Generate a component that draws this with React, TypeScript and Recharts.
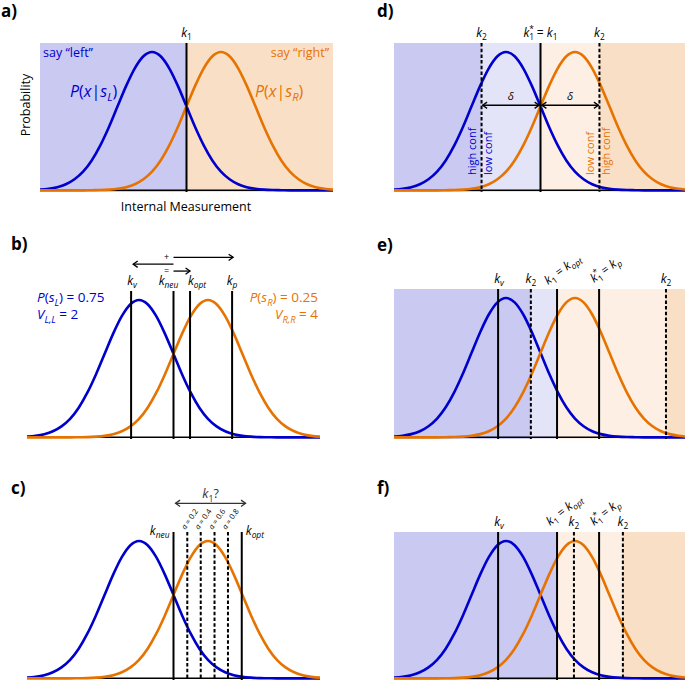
import React from "react";
import { Line, LineChart, ReferenceArea, ReferenceLine, XAxis, YAxis } from "recharts";

// internal measurement grid (units of stimulus sd, 0 = neutral criterion)
const X_GRID = [
  -4.25, -4, -3.75, -3.5, -3.25, -3, -2.75, -2.5, -2.25, -2, -1.75, -1.5, -1.25, -1, -0.75, -0.5, -0.25, 0,
  0.25, 0.5, 0.75, 1, 1.25, 1.5, 1.75, 2, 2.25, 2.5, 2.75, 3, 3.25, 3.5, 3.75, 4, 4.25,
];
// P(x|s_L), peak normalised to 1
const P_LEFT = [
  0.005, 0.011, 0.023, 0.044, 0.08, 0.135, 0.216, 0.325, 0.458, 0.607, 0.755, 0.882, 0.969, 1, 0.969, 0.882, 0.755,
  0.607, 0.458, 0.325, 0.216, 0.135, 0.08, 0.044, 0.023, 0.011, 0.005, 0.002, 0.001, 0, 0, 0, 0, 0, 0,
];
// P(x|s_R)
const P_RIGHT = [
  0, 0, 0, 0, 0, 0, 0.001, 0.002, 0.005, 0.011, 0.023, 0.044, 0.08, 0.135, 0.216, 0.325, 0.458, 0.607, 0.755, 0.882,
  0.969, 1, 0.969, 0.882, 0.755, 0.607, 0.458, 0.325, 0.216, 0.135, 0.08, 0.044, 0.023, 0.011, 0.005,
];

const CURVE = X_GRID.map((x, i) => ({ x, left: P_LEFT[i], right: P_RIGHT[i] }));

// criteria
const A_K1 = 0;
const B_KV = -1.23;
const B_KNEU = 0;
const B_KOPT = 0.48;
const B_KP = 1.7;
const C_KNEU = 0;
const C_KOPT = 1.98;
const C_ALPHAS = ["0.2", "0.4", "0.6", "0.8"];
const C_MIX = [0.4, 0.79, 1.19, 1.58];
const D_K1 = 0;
const D_K2 = [-1.71, 1.71];
const D_DELTA_Y = 0.615;
const E_KV = -1.23;
const E_K1 = 0.48;
const E_KP = 1.7;
const E_K2 = [-0.28, 3.64];
const F_KV = -1.23;
const F_K1 = 0.48;
const F_KP = 1.7;
const F_K2 = [0.97, 2.39];

const FONT = "'Open Sans', 'DejaVu Sans', sans-serif";
const BLUE = "#0000cc";
const ORANGE = "#e67300";
const BG_BLUE = "#c9c9f2";
const BG_BLUE_LIGHT = "#e4e4f9";
const BG_ORANGE = "#fadfc7";
const BG_ORANGE_LIGHT = "#fdefe3";

const W = 293;
const M = 50;
const X_DOMAIN: [number, number] = [-4.25, 4.25];
const Y_DOMAIN: [number, number] = [-0.012, 1.065];

type Seg = { t: string; it?: boolean; sub?: boolean; sup?: boolean; dx?: number };

function MathText({
  segs,
  x,
  y,
  fs = 11,
  fill = "#000",
  anchor = "start",
  rotate,
  weight,
}: {
  segs: Seg[];
  x: number;
  y: number;
  fs?: number;
  fill?: string;
  anchor?: "start" | "middle" | "end";
  rotate?: number;
  weight?: number;
}) {
  let shift = 0;
  const spans = segs.map((s, i) => {
    const target = s.sub ? fs * 0.26 : s.sup ? -fs * 0.42 : 0;
    const dy = target - shift;
    shift = target;
    return (
      <tspan
        key={i}
        dy={dy || undefined}
        dx={s.dx}
        fontStyle={s.it ? "italic" : undefined}
        fontSize={s.sub || s.sup ? fs * 0.7 : fs}
      >
        {s.t}
      </tspan>
    );
  });
  return (
    <text
      x={x}
      y={y}
      fontSize={fs}
      fill={fill}
      fontFamily={FONT}
      fontWeight={weight}
      textAnchor={anchor}
      transform={rotate ? `rotate(${rotate} ${x} ${y})` : undefined}
    >
      {spans}
    </text>
  );
}

const t = (s: string): Seg[] => [{ t: s }];
const k = (sub: string): Seg[] => [
  { t: "k", it: true },
  { t: sub, sub: true, it: isNaN(Number(sub)) },
];
const k1star: Seg[] = [{ t: "k", it: true }, { t: "1", sub: true }, { t: "*", sup: true, dx: -5 }];
const eq = (a: Seg[], b: Seg[]): Seg[] => [...a, { t: "\u00a0=\u00a0" }, ...b];

type VOpts = {
  label?: Seg[];
  dashed?: boolean;
  rot?: number;
  dx?: number;
  dy?: number;
  anchor?: "start" | "middle" | "end";
  fs?: number;
};

const vshape = (o: VOpts = {}) => (p: any) => {
  const x = p.x1;
  const y1 = Math.min(p.y1, p.y2);
  const y2 = Math.max(p.y1, p.y2);
  return (
    <g>
      <line
        x1={x}
        x2={x}
        y1={y1}
        y2={y2}
        stroke="#000"
        strokeWidth={2}
        strokeDasharray={o.dashed ? "3.5 2.2" : undefined}
      />
      {o.label && (
        <MathText
          segs={o.label}
          x={x + (o.dx ?? 0)}
          y={y1 + (o.dy ?? -6)}
          anchor={o.anchor ?? "middle"}
          rotate={o.rot}
          fs={o.fs ?? 12}
        />
      )}
    </g>
  );
};

type HOpts = { heads: "l" | "r" | "lr"; color?: string; text?: Seg[]; side?: "above" | "left"; fs?: number };

const hshape = (o: HOpts) => (p: any) => {
  const a = Math.min(p.x1, p.x2);
  const b = Math.max(p.x1, p.x2);
  const y = p.y1;
  const h = 4.5;
  const c = o.color ?? "#000";
  return (
    <g>
      <g stroke={c} strokeWidth={1.3} fill="none">
        <line x1={a} x2={b} y1={y} y2={y} />
        {o.heads.includes("l") && <path d={`M${a + h},${y - h * 0.7} L${a},${y} L${a + h},${y + h * 0.7}`} />}
        {o.heads.includes("r") && <path d={`M${b - h},${y - h * 0.7} L${b},${y} L${b - h},${y + h * 0.7}`} />}
      </g>
      {o.text &&
        (o.side === "left" ? (
          <MathText segs={o.text} x={a - 7} y={y + 2.5} anchor="middle" fs={o.fs ?? 9} fill={c} />
        ) : (
          <MathText segs={o.text} x={(a + b) / 2} y={y - 5} anchor="middle" fs={o.fs ?? 11} fill={c} />
        ))}
    </g>
  );
};

const area = (key: string, x1: number, x2: number, fill: string) => (
  <ReferenceArea key={key} x1={x1} x2={x2} fill={fill} fillOpacity={1} stroke="none" />
);

function Panel({
  left,
  plotTop,
  plotH,
  bg,
  fg,
}: {
  left: number;
  plotTop: number;
  plotH: number;
  bg: React.ReactNode[];
  fg: React.ReactNode[];
}) {
  return (
    <div style={{ position: "absolute", left, top: plotTop - M }}>
      <LineChart width={W} height={plotH + M} data={CURVE} margin={{ top: M, right: 0, bottom: 0, left: 0 }}>
        <XAxis type="number" dataKey="x" domain={X_DOMAIN} allowDataOverflow hide />
        <YAxis type="number" domain={Y_DOMAIN} allowDataOverflow hide />
        {bg}
        <ReferenceLine y={0} stroke="#000" strokeWidth={1.5} />
        <Line
          dataKey="left"
          type="monotone"
          stroke={BLUE}
          strokeWidth={2.6}
          dot={false}
          activeDot={false}
          isAnimationActive={false}
        />
        <Line
          dataKey="right"
          type="monotone"
          stroke={ORANGE}
          strokeWidth={2.6}
          dot={false}
          activeDot={false}
          isAnimationActive={false}
        />
        {fg}
      </LineChart>
    </div>
  );
}

const confText = (s: string, x: number, fill: string) => (
  <MathText segs={t(s)} x={x} y={175} fs={11} fill={fill} rotate={-90} />
);

export default function App() {
  return (
    <div
      style={{
        position: "absolute",
        left: 0,
        top: 0,
        width: 685,
        height: 682,
        overflow: "hidden",
        background: "#fff",
        fontFamily: FONT,
      }}
    >
      {/* a) */}
      <Panel
        left={40}
        plotTop={43}
        plotH={149}
        bg={[area("a1", -4.25, A_K1, BG_BLUE), area("a2", A_K1, 4.25, BG_ORANGE)]}
        fg={[<ReferenceLine key="k1" x={A_K1} shape={vshape({ label: k("1") })} />]}
      />

      {/* b) */}
      <Panel
        left={27}
        plotTop={291}
        plotH={148}
        bg={[]}
        fg={[
          <ReferenceLine key="kv" x={B_KV} shape={vshape({ label: k("v"), dx: 1 })} />,
          <ReferenceLine key="kn" x={B_KNEU} shape={vshape({ label: k("neu"), dx: -5 })} />,
          <ReferenceLine key="ko" x={B_KOPT} shape={vshape({ label: k("opt"), dx: 7 })} />,
          <ReferenceLine key="kp" x={B_KP} shape={vshape({ label: k("p") })} />,
          <ReferenceLine
            key="ar1"
            segment={[
              { x: B_KNEU, y: 1.31 },
              { x: 1.73, y: 1.31 },
            ]}
            ifOverflow="visible"
            shape={hshape({ heads: "r", text: t("+"), side: "left" })}
          />,
          <ReferenceLine
            key="ar2"
            segment={[
              { x: -1.17, y: 1.26 },
              { x: B_KNEU, y: 1.26 },
            ]}
            ifOverflow="visible"
            shape={hshape({ heads: "l" })}
          />,
          <ReferenceLine
            key="ar3"
            segment={[
              { x: B_KNEU, y: 1.21 },
              { x: B_KOPT, y: 1.21 },
            ]}
            ifOverflow="visible"
            shape={hshape({ heads: "r", text: t("="), side: "left" })}
          />,
        ]}
      />

      {/* c) */}
      <Panel
        left={27}
        plotTop={532}
        plotH={148}
        bg={[]}
        fg={[
          <ReferenceLine
            key="kn"
            x={C_KNEU}
            shape={vshape({ label: k("neu"), anchor: "end", dx: -4, dy: 3 })}
          />,
          ...C_MIX.map((m, i) => (
            <ReferenceLine
              key={"m" + i}
              x={m}
              shape={vshape({
                dashed: true,
                label: [{ t: "α", it: true }, { t: "\u00a0=\u00a0" + C_ALPHAS[i] }],
                anchor: "start",
                rot: -55,
                dx: -2,
                dy: -2,
                fs: 7.5,
              })}
            />
          )),
          <ReferenceLine
            key="ko"
            x={C_KOPT}
            shape={vshape({ label: k("opt"), anchor: "start", dx: 4, dy: 3 })}
          />,
          <ReferenceLine
            key="ar"
            segment={[
              { x: 0.06, y: 1.274 },
              { x: 2.09, y: 1.274 },
            ]}
            ifOverflow="visible"
            shape={hshape({ heads: "lr", color: "#333", text: [...k("1"), { t: "?" }], fs: 12.5 })}
          />,
        ]}
      />

      {/* d) */}
      <Panel
        left={394}
        plotTop={43}
        plotH={149}
        bg={[
          area("d1", -4.25, D_K2[0], BG_BLUE),
          area("d2", D_K2[0], D_K1, BG_BLUE_LIGHT),
          area("d3", D_K1, D_K2[1], BG_ORANGE_LIGHT),
          area("d4", D_K2[1], 4.25, BG_ORANGE),
        ]}
        fg={[
          <ReferenceLine key="k2a" x={D_K2[0]} shape={vshape({ dashed: true, label: k("2") })} />,
          <ReferenceLine key="k1" x={D_K1} shape={vshape({ label: eq(k1star, k("1")) })} />,
          <ReferenceLine key="k2b" x={D_K2[1]} shape={vshape({ dashed: true, label: k("2") })} />,
          <ReferenceLine
            key="dl"
            segment={[
              { x: D_K2[0] + 0.03, y: D_DELTA_Y },
              { x: D_K1 - 0.04, y: D_DELTA_Y },
            ]}
            ifOverflow="visible"
            shape={hshape({ heads: "lr", text: [{ t: "δ", it: true }] })}
          />,
          <ReferenceLine
            key="dr"
            segment={[
              { x: D_K1 + 0.04, y: D_DELTA_Y },
              { x: D_K2[1] - 0.03, y: D_DELTA_Y },
            ]}
            ifOverflow="visible"
            shape={hshape({ heads: "lr", text: [{ t: "δ", it: true }] })}
          />,
        ]}
      />

      {/* e) */}
      <Panel
        left={394}
        plotTop={289}
        plotH={150}
        bg={[
          area("e1", -4.25, E_K2[0], BG_BLUE),
          area("e2", E_K2[0], E_K1, BG_BLUE_LIGHT),
          area("e3", E_K1, E_K2[1], BG_ORANGE_LIGHT),
          area("e4", E_K2[1], 4.25, BG_ORANGE),
        ]}
        fg={[
          <ReferenceLine key="kv" x={E_KV} shape={vshape({ label: k("v"), dx: 1 })} />,
          <ReferenceLine key="k2a" x={E_K2[0]} shape={vshape({ dashed: true, label: k("2") })} />,
          <ReferenceLine
            key="k1"
            x={E_K1}
            shape={vshape({ label: eq(k("1"), k("opt")), anchor: "start", rot: -37, dx: -9, dy: -4 })}
          />,
          <ReferenceLine
            key="kp"
            x={E_KP}
            shape={vshape({ label: eq(k1star, k("p")), anchor: "start", rot: -37, dx: -5, dy: -6 })}
          />,
          <ReferenceLine key="k2b" x={E_K2[1]} shape={vshape({ dashed: true, label: k("2") })} />,
        ]}
      />

      {/* f) */}
      <Panel
        left={394}
        plotTop={532}
        plotH={148}
        bg={[
          area("f1", -4.25, F_K1, BG_BLUE),
          area("f2", F_K1, F_K2[1], BG_ORANGE_LIGHT),
          area("f3", F_K2[1], 4.25, BG_ORANGE),
        ]}
        fg={[
          <ReferenceLine key="kv" x={F_KV} shape={vshape({ label: k("v"), dx: 1 })} />,
          <ReferenceLine
            key="k1"
            x={F_K1}
            shape={vshape({ label: eq(k("1"), k("opt")), anchor: "start", rot: -38, dx: -7, dy: -6 })}
          />,
          <ReferenceLine key="k2a" x={F_K2[0]} shape={vshape({ dashed: true, label: k("2") })} />,
          <ReferenceLine
            key="kp"
            x={F_KP}
            shape={vshape({ label: eq(k1star, k("p")), anchor: "start", rot: -38, dx: -5, dy: -6 })}
          />,
          <ReferenceLine key="k2b" x={F_K2[1]} shape={vshape({ dashed: true, label: k("2") })} />,
        ]}
      />

      {/* free text */}
      <svg
        width={685}
        height={682}
        style={{ position: "absolute", left: 0, top: 0, pointerEvents: "none" }}
      >
        <MathText segs={t("a)")} x={1} y={17} fs={17} weight={700} />
        <MathText segs={t("b)")} x={11} y={250} fs={17} weight={700} />
        <MathText segs={t("c)")} x={11} y={494} fs={17} weight={700} />
        <MathText segs={t("d)")} x={377} y={17} fs={17} weight={700} />
        <MathText segs={t("e)")} x={377} y={251} fs={17} weight={700} />
        <MathText segs={t("f)")} x={377} y={494} fs={17} weight={700} />

        <MathText segs={t("say \u201cleft\u201d")} x={43} y={57} fs={12.5} fill={BLUE} />
        <MathText segs={t("say \u201cright\u201d")} x={329} y={57} fs={12.5} fill={ORANGE} anchor="end" />
        <MathText
          segs={[{ t: "P", it: true }, { t: "(" }, { t: "x", it: true }, { t: "|" }, { t: "s", it: true }, { t: "L", it: true, sub: true }, { t: ")" }]}
          x={70}
          y={97}
          fs={16}
          fill={BLUE}
        />
        <MathText
          segs={[{ t: "P", it: true }, { t: "(" }, { t: "x", it: true }, { t: "|" }, { t: "s", it: true }, { t: "R", it: true, sub: true }, { t: ")" }]}
          x={255}
          y={97}
          fs={16}
          fill={ORANGE}
        />
        <MathText segs={t("Probability")} x={30} y={105} fs={12.5} anchor="middle" rotate={-90} />
        <MathText segs={t("Internal Measurement")} x={186} y={211} fs={12.5} anchor="middle" />

        <MathText
          segs={[{ t: "P", it: true }, { t: "(" }, { t: "s", it: true }, { t: "L", it: true, sub: true }, { t: ")\u00a0=\u00a00.75" }]}
          x={37}
          y={302}
          fs={13.5}
          fill={BLUE}
        />
        <MathText
          segs={[{ t: "V", it: true }, { t: "L,L", it: true, sub: true }, { t: "\u00a0=\u00a02" }]}
          x={37}
          y={319}
          fs={13.5}
          fill={BLUE}
        />
        <MathText
          segs={[{ t: "P", it: true }, { t: "(" }, { t: "s", it: true }, { t: "R", it: true, sub: true }, { t: ")\u00a0=\u00a00.25" }]}
          x={318}
          y={302}
          fs={13.5}
          fill={ORANGE}
          anchor="end"
        />
        <MathText
          segs={[{ t: "V", it: true }, { t: "R,R", it: true, sub: true }, { t: "\u00a0=\u00a04" }]}
          x={318}
          y={319}
          fs={13.5}
          fill={ORANGE}
          anchor="end"
        />

        {confText("high conf", 476, BLUE)}
        {confText("low conf", 492, BLUE)}
        {confText("low conf", 594, ORANGE)}
        {confText("high conf", 610, ORANGE)}
      </svg>
    </div>
  );
}
